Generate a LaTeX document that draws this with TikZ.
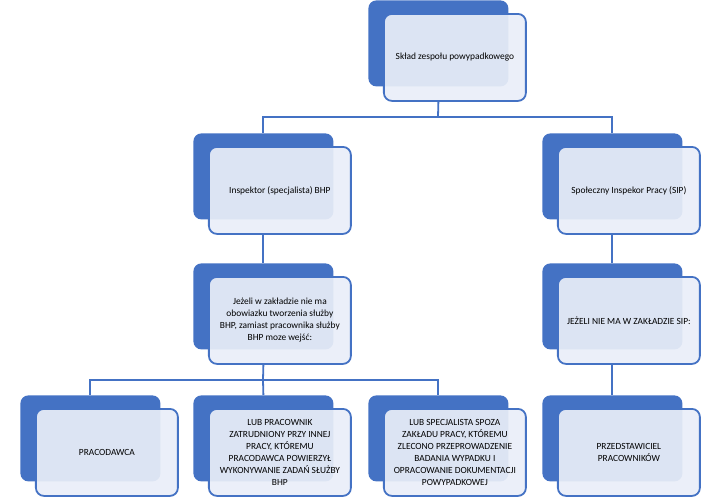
\documentclass[tikz,border=0pt]{standalone}
\usepackage{fontspec}
\setmainfont{Carlito}
\usetikzlibrary{positioning}
\definecolor{accent}{HTML}{4472C4}
\definecolor{lightacc}{HTML}{E9EEF8}
\tikzset{
  back/.style={ fill=accent, rounded corners=4pt, minimum width=70pt, minimum height=43pt, anchor=north west, inner sep=0pt },
  front/.style={ draw=accent, line width=0.9pt, fill=lightacc, fill opacity=0.92, text opacity=1, rounded corners=4pt, minimum width=71pt, minimum height=43.5pt, anchor=north west, align=center, inner sep=0pt, font=\fontsize{4.7}{6}\selectfont },
  link/.style={ draw=accent, line width=0.9pt }
}
% one block: blue card behind, light card in front
\newcommand{\block}[4]{%
  \node[back] (b-#1) at (#2,#3) {};
  \node[front] (#1) at ([xshift=7.5pt,yshift=-6.5pt]b-#1.north west) {#4};
}
\begin{document}
\begin{tikzpicture}[x=0.5pt, y=-0.5pt]
  \useasboundingbox (0,0) rectangle (720,500);
  \block{sklad}{368}{0}{Skład zespołu powypadkowego}
  \block{insp}{193}{133}{Inspektor (specjalista) BHP}
  \block{sip}{542}{133}{Społeczny Inspekor Pracy (SIP)}
  \block{jezeli}{193}{263}{Jeżeli w zakładzie nie ma\\obowiazku tworzenia służby\\BHP, zamiast pracownika służby\\BHP moze wejść:}
  \block{niesip}{542}{263}{JEŻELI NIE MA W ZAKŁADZIE SIP:}
  \block{prac}{20}{395}{PRACODAWCA}
  \block{lubprac}{193}{395}{LUB PRACOWNIK\\ZATRUDNIONY PRZY INNEJ\\PRACY, KTÓREMU\\PRACODAWCA POWIERZYŁ\\WYKONYWANIE ZADAŃ SŁUŻBY\\BHP}
  \block{lubspec}{368}{395}{LUB SPECJALISTA SPOZA\\ZAKŁADU PRACY, KTÓREMU\\ZLECONO PRZEPROWADZENIE\\BADANIA WYPADKU I\\OPRACOWANIE DOKUMENTACJI\\POWYPADKOWEJ}
  \block{przedst}{542}{395}{PRZEDSTAWICIEL\\PRACOWNIKÓW}

  \coordinate (j1) at (438,117);
  \coordinate (j2) at (263,380);
  \draw[link] (b-sklad.center |- sklad.south) -- (j1);
  \draw[link] (j1) -| (b-insp.north);
  \draw[link] (j1) -| (b-sip.north);
  \draw[link] (b-insp.center |- insp.south) -- (b-jezeli.north);
  \draw[link] (b-sip.center |- sip.south) -- (b-niesip.north);
  \draw[link] (b-niesip.center |- niesip.south) -- (b-przedst.north);
  \draw[link] (b-jezeli.center |- jezeli.south) -- (j2);
  \draw[link] (j2) -| (b-prac.north);
  \draw[link] (j2) -- (b-lubprac.north);
  \draw[link] (j2) -| (b-lubspec.north);
\end{tikzpicture}
\end{document}
